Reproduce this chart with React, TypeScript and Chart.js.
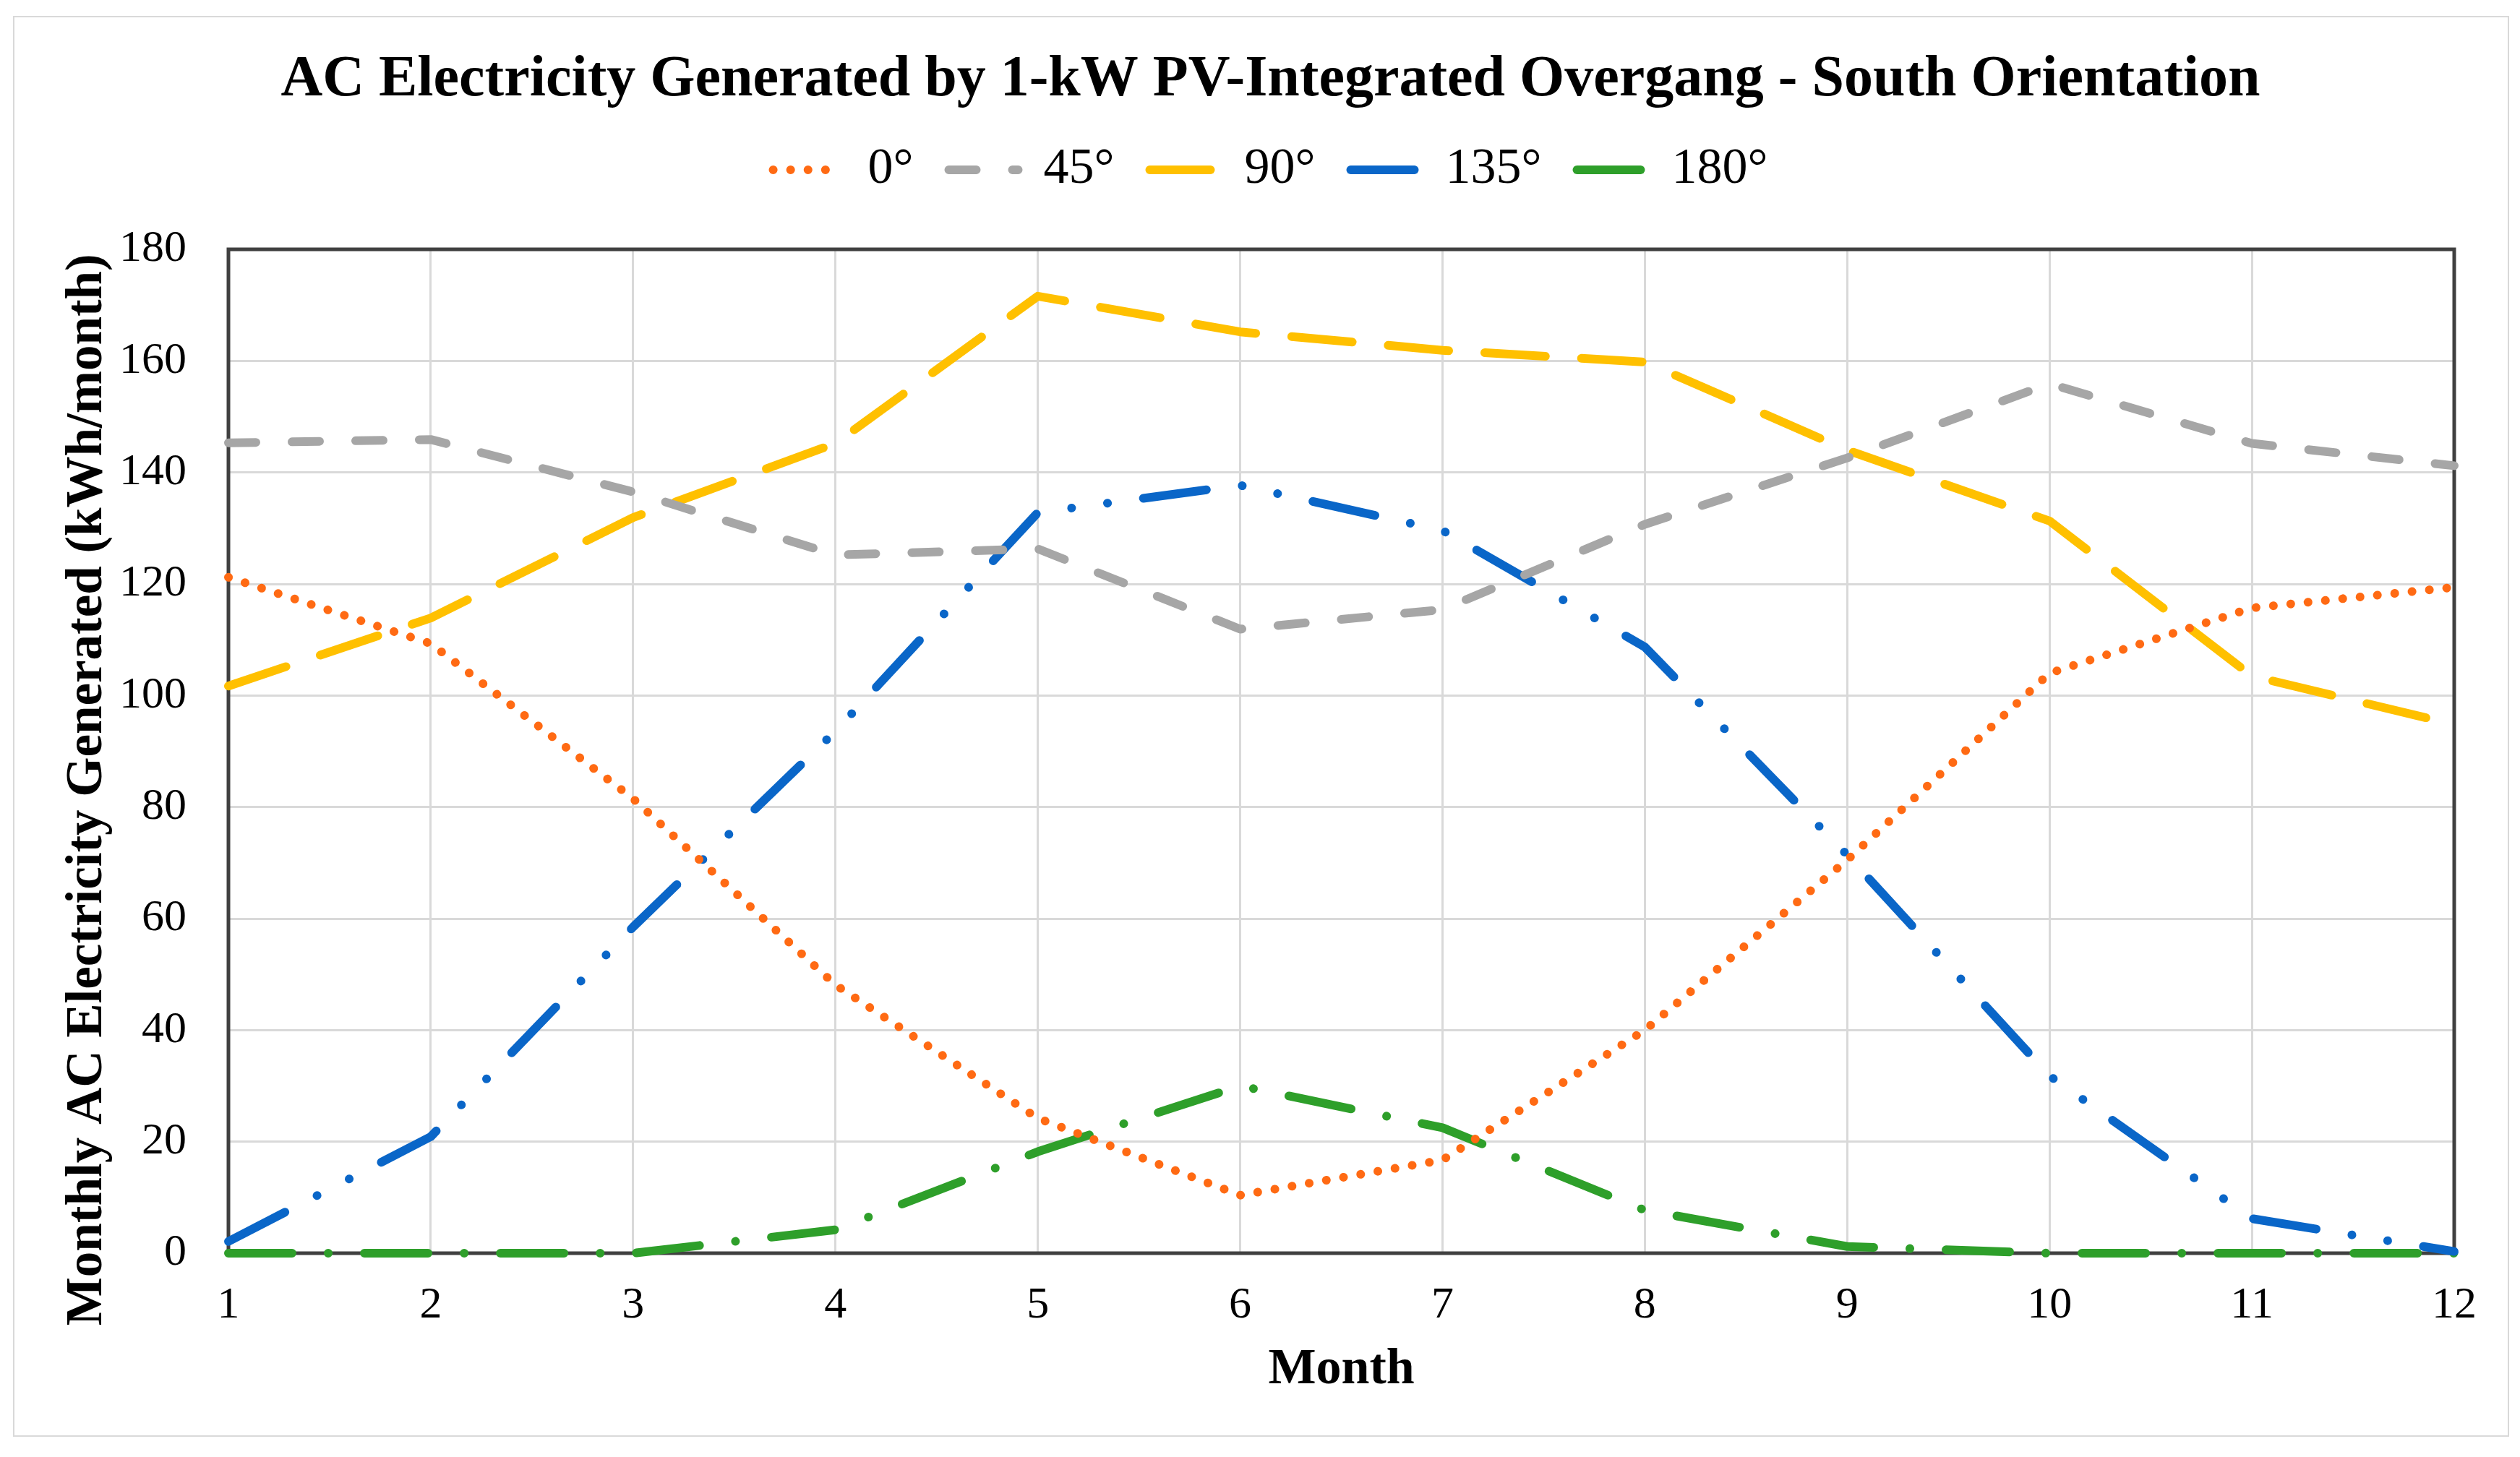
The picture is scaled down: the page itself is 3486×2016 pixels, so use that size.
import { useEffect, useRef } from 'react'
import { Chart, registerables, type Plugin, type Scale } from 'chart.js'

Chart.register(...registerables)

// ---- data ----
const MONTHS = ['1', '2', '3', '4', '5', '6', '7', '8', '9', '10', '11', '12']
const SERIES_NAMES = ['0°', '45°', '90°', '135°', '180°']
const TILT_0   = [121.2, 109.3, 81.5, 48.1, 24.2, 10.4, 16.7, 40.0, 70.5, 104.0, 115.7, 119.4]
const TILT_45  = [145.3, 145.9, 136.5, 125.2, 126.3, 111.9, 115.4, 130.7, 142.6, 155.9, 145.2, 141.2]
const TILT_90  = [101.7, 113.9, 131.9, 145.2, 171.6, 165.2, 161.9, 159.8, 144.0, 131.3, 103.5, 94.8]
const TILT_135 = [2.1, 20.9, 58.5, 93.6, 132.8, 137.7, 129.6, 108.7, 71.4, 31.8, 6.2, 0.3]
const TILT_180 = [0, 0, 0, 4.2, 18.2, 30.0, 22.5, 7.7, 1.2, 0, 0, 0]
const Y_MIN = 0
const Y_MAX = 180
const Y_STEP = 20

const TITLE = 'AC Electricity Generated by 1-kW PV-Integrated Overgang - South Orientation'
const X_TITLE = 'Month'
// trailing spaces nudge the rotated title towards the bottom, like Excel places it
const Y_TITLE = 'Monthly AC Electricity Generated (kWh/month)      '

// ---- styles ----
const COLORS = ['#FF6A13', '#A6A6A6', '#FFC000', '#0A66C8', '#2E9F2A']
const LINE_W = 12
const DASHES = [
  [0.1, 24],                        // round dot
  [38, 50],                         // dash
  [84, 50],                         // long dash
  [88, 50, 0.1, 50, 0.1, 50],       // long dash dot dot
  [88, 50, 0.1, 50],                // long dash dot
]
const SERIF = '"Liberation Serif", "Times New Roman", serif'
const GRID = '#D9D9D9'
const FRAME = '#404040'

const BOX_W = 3449
const BOX_H = 1962
const PAD_LEFT = 100
const PAD_RIGHT = 74
const Y_AXIS_W = 296 - PAD_LEFT
const X_AXIS_H = 252
const LEGEND_GAP = 65

// push the plot area down below the legend (Chart.js only leaves 10px there)
const legendGap: Plugin<'line'> = {
  id: 'legendGap',
  beforeInit(chart) {
    const legend = chart.legend as any
    if (!legend) return
    const fit = legend.fit
    legend.fit = function () {
      fit.call(this)
      this.height += LEGEND_GAP
    }
  },
}

// dark frame around the plot area, under the series
const plotFrame: Plugin<'line'> = {
  id: 'plotFrame',
  beforeDatasetsDraw(chart) {
    const { ctx, chartArea: { left, top, width, height } } = chart
    ctx.save()
    ctx.strokeStyle = FRAME
    ctx.lineWidth = 5
    ctx.strokeRect(left, top, width, height)
    ctx.restore()
  },
}

export default function App() {
  const canvasRef = useRef<HTMLCanvasElement>(null)

  useEffect(() => {
    const canvas = canvasRef.current
    if (!canvas) return
    Chart.getChart(canvas)?.destroy()

    const series = [TILT_0, TILT_45, TILT_90, TILT_135, TILT_180]

    const chart = new Chart(canvas, {
      type: 'line',
      data: {
        labels: MONTHS,
        datasets: series.map((values, i) => ({
          label: SERIES_NAMES[i],
          data: values,
          borderColor: COLORS[i],
          backgroundColor: COLORS[i],
          borderWidth: LINE_W,
          borderDash: DASHES[i],
          borderCapStyle: 'round' as const,
          borderJoinStyle: 'round' as const,
          pointRadius: 0,
          pointHoverRadius: 0,
          tension: 0,
          clip: false as const,
        })),
      },
      options: {
        responsive: true,
        maintainAspectRatio: false,
        animation: false,
        layout: { padding: { top: 0, right: PAD_RIGHT, bottom: 0, left: PAD_LEFT } },
        font: { family: SERIF },
        plugins: {
          tooltip: { enabled: false },
          title: {
            display: true,
            text: TITLE,
            color: '#000',
            font: { family: SERIF, size: 80, weight: 'bold', lineHeight: 1 },
            padding: { top: 47, bottom: 0 },
          },
          legend: {
            display: true,
            position: 'top',
            labels: {
              color: '#000',
              font: { family: SERIF, size: 70 },
              usePointStyle: true,
              pointStyle: 'line',
              pointStyleWidth: 96,
              padding: 49,
              generateLabels: (c) =>
                c.data.datasets.map((ds, i) => ({
                  text: ds.label as string,
                  strokeStyle: COLORS[i],
                  fillStyle: COLORS[i],
                  lineWidth: LINE_W,
                  lineDash: DASHES[i],
                  lineCap: 'round' as const,
                  pointStyle: 'line' as const,
                  hidden: false,
                  datasetIndex: i,
                  fontColor: '#000',
                })),
            },
          },
        },
        scales: {
          x: {
            type: 'category',
            offset: false,
            grid: { color: GRID, lineWidth: 3, drawTicks: false, offset: false },
            border: { display: false },
            ticks: { color: '#000', font: { family: SERIF, size: 62 }, padding: 36, maxRotation: 0, autoSkip: false },
            title: {
              display: true,
              text: X_TITLE,
              color: '#000',
              font: { family: SERIF, size: 70, weight: 'bold' },
              padding: { top: 0, bottom: 48 },
            },
            afterFit: (scale: Scale) => { scale.height = X_AXIS_H },
          },
          y: {
            type: 'linear',
            min: Y_MIN,
            max: Y_MAX,
            grid: { color: GRID, lineWidth: 3, drawTicks: false },
            border: { display: false },
            ticks: { stepSize: Y_STEP, color: '#000', font: { family: SERIF, size: 62 }, padding: 58 },
            title: {
              display: true,
              text: Y_TITLE,
              color: '#000',
              // tiny line height: the title sits right at the left edge of the axis box
              font: { family: SERIF, size: 71, weight: 'bold', lineHeight: '4px' },
              padding: { top: 0, bottom: 0 },
            },
            afterFit: (scale: Scale) => { scale.width = Y_AXIS_W },
          },
        },
      },
      plugins: [legendGap, plotFrame],
    })

    return () => chart.destroy()
  }, [])

  return (
    <div
      style={{
        position: 'absolute',
        left: 18,
        top: 22,
        width: BOX_W,
        height: BOX_H,
        border: '2px solid #D9D9D9',
        background: '#fff',
      }}
    >
      <canvas ref={canvasRef} />
    </div>
  )
}
